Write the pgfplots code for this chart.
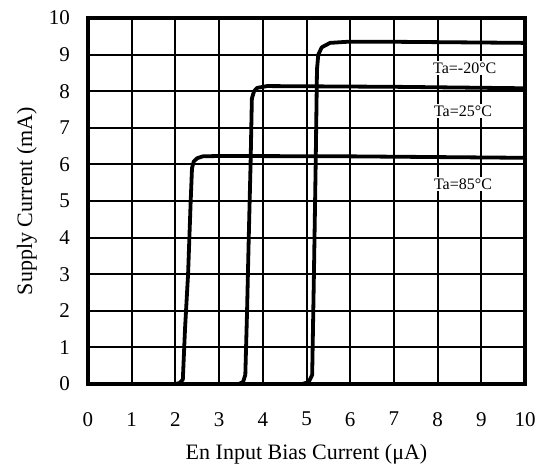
\documentclass[border=0pt]{standalone}
\usepackage{fontspec}
\setmainfont{Liberation Serif}
\usepackage{pgfplots}
\pgfplotsset{compat=1.18}
\pgfplotsset{curve/.style={black, no markers, line width=3.8bp, line join=round, line cap=round}}

\begin{document}
\begin{tikzpicture}
  \path[use as bounding box] (-88bp,-82bp) rectangle (456bp,384bp);
  \begin{axis}[
      at={(0,0)}, anchor=south west,
      scale only axis,
      width=437bp, height=366bp,
      xmin=0, xmax=10, ymin=0, ymax=10,
      xtick={0,1,...,10}, ytick={0,1,...,10},
      major tick length=0pt,
      grid=major,
      major grid style={black, line width=2bp},
      axis line style={black, line width=3.5bp},
      /pgf/number format/assume math mode=true,
      tick label style={font=\fontsize{21bp}{25bp}\selectfont, inner sep=0pt},
      x tick label style={anchor=north, yshift=-28bp},
      y tick label style={anchor=east, xshift=-18bp},
      label style={font=\fontsize{22bp}{26bp}\selectfont, inner sep=0pt},
      xlabel={En Input Bias Current (μA)},
      ylabel={Supply Current (mA)},
      xlabel style={at={(axis description cs:0.5,-0.205)}, anchor=base},
      ylabel style={at={(axis description cs:-0.128,0.5)}, anchor=base},
    ]
    % Ta = 85 C
    \addplot[curve] coordinates {(0,0) (2.0,0) (2.1,0.03) (2.17,0.12) (2.22,1.5) (2.29,3.0)
      (2.35,5.0) (2.38,5.9) (2.42,6.08) (2.5,6.17) (2.63,6.22) (3,6.23) (6,6.22) (10,6.18)};
    % Ta = 25 C
    \addplot[curve] coordinates {(0,0) (3.45,0) (3.55,0.06) (3.6,0.25) (3.64,2) (3.68,4.07)
      (3.72,6) (3.75,7.8) (3.8,8.0) (3.87,8.09) (4.1,8.14) (7,8.12) (10,8.08)};
    % Ta = -20 C
    \addplot[curve] coordinates {(0,0) (4.9,0) (5.05,0.05) (5.13,0.25) (5.17,3) (5.21,6)
      (5.24,8.6) (5.27,9.0) (5.35,9.2) (5.54,9.32) (5.93,9.35) (7,9.35) (10,9.32)};
    \begin{scope}[every node/.style={fill=white, inner sep=1.5bp, anchor=west,
        font=\fontsize{16bp}{19bp}\selectfont}]
      \node at (axis cs:7.86,8.63) {Ta=-20°C};
      \node at (axis cs:7.88,7.46) {Ta=25°C};
      \node at (axis cs:7.88,5.47) {Ta=85°C};
    \end{scope}
  \end{axis}
\end{tikzpicture}
\end{document}
